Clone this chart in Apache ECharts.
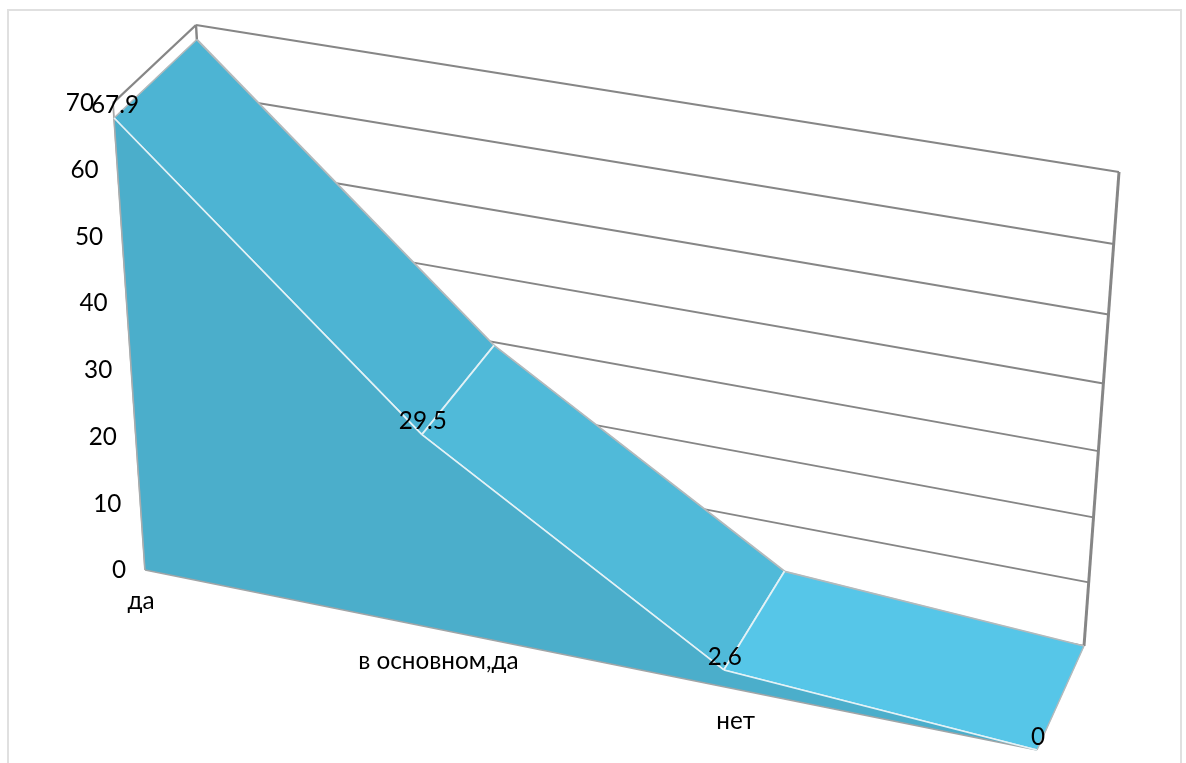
<!DOCTYPE html>
<html>
<head>
<meta charset="utf-8">
<script src="https://cdn.jsdelivr.net/npm/echarts@6/dist/echarts.min.js"></script>
<style>
html,body{margin:0;padding:0;background:#fff;}
#chart{width:1186px;height:763px;}
#frame{position:absolute;left:7px;top:9px;width:1171px;height:760px;border:2px solid #e0e0e0;box-sizing:content-box;pointer-events:none;}
body{overflow:hidden;}
</style>
</head>
<body>
<div id="chart"></div>
<div id="frame"></div>
<script>
// ---- data ----
var categories = ['да', 'в основном,да', 'нет', ''];
var values = [67.9, 29.5, 2.6, 0];
var valueLabels = ['67.9', '29.5', '2.6', '0'];
var ticks = [0, 10, 20, 30, 40, 50, 60, 70];
var tickLabels = ['0', '10', '20', '30', '40', '50', '60', '70'];

// ---- 3D view: where the unit square of the plot lands on the page ----
// order: bottom-left, bottom-right, top-right, top-left
var FRONT = [[145, 570], [1037, 750], [1074, 255], [113, 103]];
var BACK = [[223, 478], [1084, 646], [1119, 172], [196, 25]];
var FONT = 'Lato, "Open Sans", sans-serif';
var FONT_SIZE = 24.3;
var GRID_COLOR = '#868686';
var EDGE_LIGHT = '#e4f2f6';
var EDGE_GREY = '#b4b9bb';
var SLOPE_COLORS = ['#4db4d3', '#50bad9', '#56c6e8'];
var FRONT_COLOR = '#4baecb';

function quadMatrix(q) {
  var x0 = q[0][0], y0 = q[0][1], x1 = q[1][0], y1 = q[1][1],
      x2 = q[2][0], y2 = q[2][1], x3 = q[3][0], y3 = q[3][1];
  var dx1 = x1 - x2, dx2 = x3 - x2, sx = x0 - x1 + x2 - x3;
  var dy1 = y1 - y2, dy2 = y3 - y2, sy = y0 - y1 + y2 - y3;
  var den = dx1 * dy2 - dx2 * dy1;
  var g = (sx * dy2 - dx2 * sy) / den;
  var h = (dx1 * sy - sx * dy1) / den;
  return [x1 - x0 + g * x1, x3 - x0 + h * x3, x0, y1 - y0 + g * y1, y3 - y0 + h * y3, y0, g, h];
}
function applyMatrix(m, u, w) {
  var k = m[6] * u + m[7] * w + 1;
  return [(m[0] * u + m[1] * w + m[2]) / k, (m[3] * u + m[4] * w + m[5]) / k];
}
var FM = quadMatrix(FRONT), BM = quadMatrix(BACK);

function plotUV(params, api, xIdx, val) {
  var p = api.coord([xIdx, val]);
  var cs = params.coordSys;
  return [(p[0] - cs.x) / cs.width, (cs.y + cs.height - p[1]) / cs.height];
}
// category index + value go through the chart's own axes first,
// then the plot position is carried into the tilted 3D view.
function project(params, api, xIdx, val, depth) {
  var uv = plotUV(params, api, xIdx, val);
  var a = applyMatrix(FM, uv[0], uv[1]), b = applyMatrix(BM, uv[0], uv[1]);
  return [a[0] + (b[0] - a[0]) * depth, a[1] + (b[1] - a[1]) * depth];
}
// axis text is evenly spaced along the front edges, without perspective
function evenOnFront(params, api, xIdx, val) {
  var uv = plotUV(params, api, xIdx, val);
  var u = uv[0], w = uv[1];
  function pick(n) {
    return (1 - w) * ((1 - u) * FRONT[0][n] + u * FRONT[1][n]) + w * ((1 - u) * FRONT[3][n] + u * FRONT[2][n]);
  }
  return [pick(0), pick(1)];
}
function line(a, b, color, width) {
  return {type: 'line', shape: {x1: a[0], y1: a[1], x2: b[0], y2: b[1]}, style: {stroke: color, lineWidth: width}};
}
function text(p, str, align, dx, dy) {
  return {type: 'text', x: p[0] + dx, y: p[1] + dy,
    style: {text: str, font: FONT_SIZE + 'px ' + FONT, fill: '#000', align: align, verticalAlign: 'middle'}};
}
var LAST = categories.length - 1;

// walls: back grid lines, box outline
function renderWalls(params, api) {
  var t = api.value(0);
  var kids = [];
  var w = t === 70 ? 2.2 : 1.9;
  kids.push(line(project(params, api, 0, t, 1), project(params, api, LAST, t, 1), GRID_COLOR, w));
  if (t === 70) {
    kids.push(line(project(params, api, 0, t, 0), project(params, api, 0, t, 1), GRID_COLOR, 2.4));
    kids.push(line(project(params, api, LAST, 0, 1), project(params, api, LAST, t, 1), GRID_COLOR, 3));
    kids.push(line(project(params, api, 0, 0, 1), project(params, api, 0, t, 1), GRID_COLOR, 2.4));
    kids.push(line(project(params, api, 0, t, 0), project(params, api, 0, 0, 0), '#a8a8a8', 1.8));
  }
  return {type: 'group', children: kids};
}
// sloping top surface, one band per neighbouring pair of values
function renderSlope(params, api) {
  var i = params.dataIndex;
  if (i >= LAST) return null;
  var a = values[i], b = values[i + 1];
  var p = [project(params, api, i, a, 0), project(params, api, i + 1, b, 0),
           project(params, api, i + 1, b, 1), project(params, api, i, a, 1)];
  return {type: 'group', children: [
    {type: 'polygon', shape: {points: p}, style: {fill: SLOPE_COLORS[i], stroke: SLOPE_COLORS[i], lineWidth: 0.5}},
    line(p[3], p[2], EDGE_GREY, 1.8),
    line(p[0], p[1], EDGE_LIGHT, 1.6),
    line(p[0], p[3], i === 0 ? EDGE_GREY : EDGE_LIGHT, 1.6),
    line(p[1], p[2], i === LAST - 1 ? EDGE_GREY : EDGE_LIGHT, i === LAST - 1 ? 1.4 : 2)
  ]};
}
// front face of the area
function renderFront(params, api) {
  if (params.dataIndex !== 0) return null;
  var pts = [project(params, api, 0, 0, 0)];
  for (var i = 0; i <= LAST; i++) pts.push(project(params, api, i, values[i], 0));
  var top = [];
  for (var j = 0; j < LAST; j++) {
    top.push(line(project(params, api, j, values[j], 0), project(params, api, j + 1, values[j + 1], 0), EDGE_LIGHT, 1.6));
  }
  return {type: 'group', children: [
    {type: 'polygon', shape: {points: pts}, style: {fill: FRONT_COLOR}},
    line(pts[0], pts[1], '#a8adaf', 1.4),
    line(pts[0], pts[pts.length - 1], '#a0a5a7', 1.6)
  ].concat(top)};
}
function renderTickLabels(params, api) {
  var t = api.value(0);
  return text(evenOnFront(params, api, 0, t), tickLabels[params.dataIndex], 'right', -19, 0.5);
}
function renderValueLabels(params, api) {
  var i = params.dataIndex;
  return text(project(params, api, i, values[i], 0), valueLabels[i], 'center', 1, -13);
}
function renderCatLabels(params, api) {
  var i = params.dataIndex;
  return text(evenOnFront(params, api, i, 0), categories[i], 'center', -4, 31);
}
function custom(render, data, z) {
  return {type: 'custom', renderItem: render, data: data, clip: false, z: z, silent: true, coordinateSystem: 'cartesian2d'};
}
var tickData = ticks.map(function (t) { return [t]; });
var pointData = values.map(function (v, i) { return [i, v]; });

var chart = echarts.init(document.getElementById('chart'), null, {renderer: 'canvas'});
chart.setOption({
  animation: false,
  backgroundColor: '#ffffff',
  grid: {left: 100, right: 100, top: 100, bottom: 100},
  xAxis: {type: 'category', data: categories, boundaryGap: false, show: false},
  yAxis: {type: 'value', min: 0, max: 70, interval: 10, show: false},
  series: [
    custom(renderWalls, tickData, 1),
    custom(renderSlope, pointData, 2),
    custom(renderFront, pointData, 3),
    custom(renderTickLabels, tickData, 4),
    custom(renderValueLabels, pointData, 5),
    custom(renderCatLabels, pointData, 5)
  ]
});
</script>
</body>
</html>
